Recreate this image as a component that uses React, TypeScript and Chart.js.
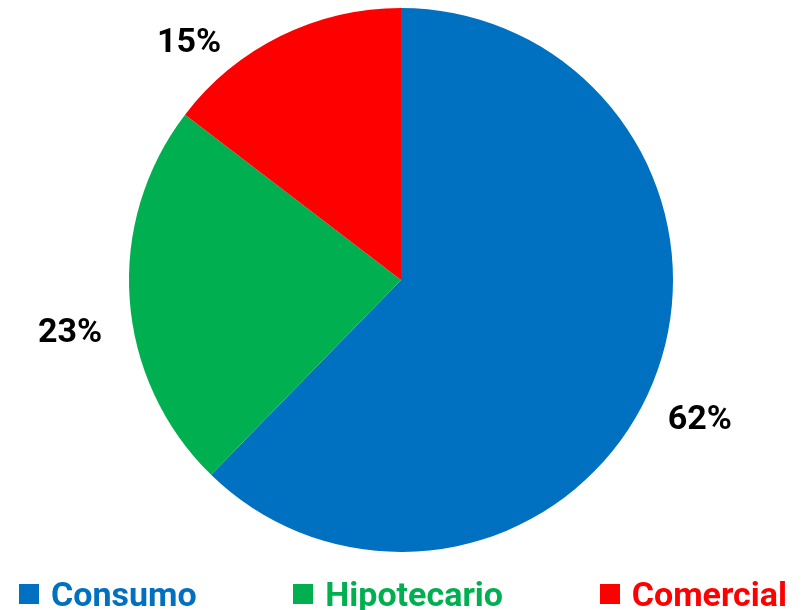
import React, { useEffect, useRef } from "react";
import { Chart, registerables } from "chart.js";

Chart.register(...registerables);

const categories = ["Consumo", "Hipotecario", "Comercial"];
const shares = [62.3, 23.1, 14.6];
const sliceColors = ["#0070C0", "#00B050", "#FF0000"];
// label centre offsets relative to the pie centre, in units of the radius
const labelOffsetX = [1.099, -1.217, -0.779];
const labelOffsetY = [0.518, 0.195, -0.868];

const FONT = "Roboto, 'Liberation Sans', sans-serif";

const outsideLabels = {
  id: "outsideLabels",
  afterDatasetsDraw(chart: any) {
    const meta = chart.getDatasetMeta(0);
    const ctx = chart.ctx;
    const data = chart.data.datasets[0].data as number[];
    const total = data.reduce((a, b) => a + b, 0);
    ctx.save();
    ctx.font = `700 34px ${FONT}`;
    ctx.fillStyle = "#000000";
    ctx.textAlign = "center";
    ctx.textBaseline = "middle";
    meta.data.forEach((arc: any, i: number) => {
      const r = arc.outerRadius;
      const x = arc.x + labelOffsetX[i] * r;
      const y = arc.y + labelOffsetY[i] * r;
      ctx.fillText(`${Math.round((data[i] / total) * 100)}%`, x, y);
    });
    ctx.restore();
  },
};

export default function App() {
  const ref = useRef<HTMLCanvasElement | null>(null);
  useEffect(() => {
    if (!ref.current) return;
    const chart = new Chart(ref.current, {
      type: "pie",
      data: {
        labels: categories,
        datasets: [
          {
            data: shares,
            backgroundColor: sliceColors,
            borderWidth: 0,
          },
        ],
      },
      options: {
        animation: false,
        responsive: false,
        layout: { padding: { top: 8, bottom: 58, left: 129, right: 129 } },
        plugins: {
          legend: { display: false },
          tooltip: { enabled: false },
        },
      },
      plugins: [outsideLabels],
    });
    return () => chart.destroy();
  }, []);

  return (
    <div
      style={{
        position: "fixed",
        left: 0,
        top: 0,
        width: 802,
        height: 610,
        background: "#ffffff",
        overflow: "hidden",
      }}
    >
      <canvas ref={ref} width={802} height={610} style={{ position: "absolute", left: 0, top: 0 }} />
      <div
        style={{
          position: "absolute",
          left: 19,
          top: 577,
          width: 768,
          height: 34,
          display: "flex",
          justifyContent: "space-between",
          alignItems: "center",
        }}
      >
        {categories.map((c, i) => (
          <div key={c} style={{ display: "flex", alignItems: "center" }}>
            <div style={{ width: 20, height: 20, background: sliceColors[i], marginRight: 12 }} />
            <span
              style={{
                font: `700 34px/34px ${FONT}`,
                color: sliceColors[i],
                whiteSpace: "nowrap",
              }}
            >
              {c}
            </span>
          </div>
        ))}
      </div>
    </div>
  );
}
